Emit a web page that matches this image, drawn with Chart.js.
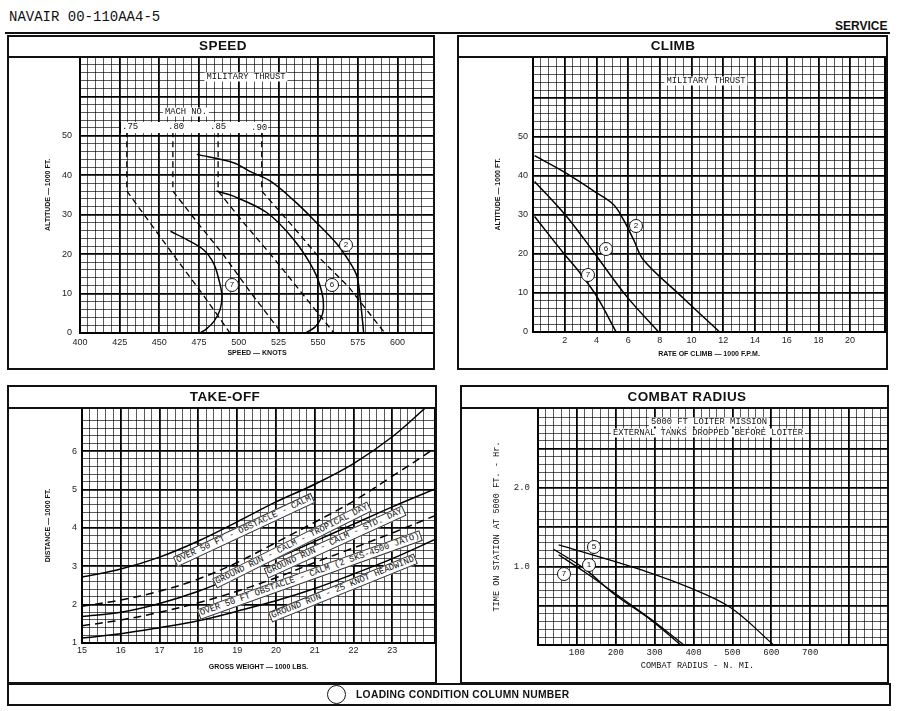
<!DOCTYPE html>
<html><head><meta charset="utf-8">
<script src="https://cdn.jsdelivr.net/npm/chart.js@4.4.1/dist/chart.umd.min.js"></script>
<style>
body{margin:0;width:900px;height:711px;background:#fff;position:relative;overflow:hidden;font-family:"Liberation Sans",Arial,sans-serif;color:#111;}
.abs{position:absolute;}
.box{position:absolute;border:2px solid #111;box-sizing:border-box;}
.hl{position:absolute;height:2px;background:#111;}
.title{position:absolute;font-weight:bold;font-size:13.5px;line-height:14px;transform:translate(-50%,-50%);white-space:nowrap;letter-spacing:0.4px;}
.tag{position:absolute;background:#fff;font-family:"Liberation Mono","DejaVu Sans Mono",monospace;font-size:8.8px;line-height:9px;padding:0 2px;white-space:nowrap;transform:translate(-50%,-50%);}
.rtag{position:absolute;background:#fff;font-family:"Liberation Mono","DejaVu Sans Mono",monospace;font-size:8.8px;line-height:9px;padding:0 1px;white-space:nowrap;border:1px solid #333;}
.circ{position:absolute;width:12px;height:12px;border:1.3px solid #111;border-radius:50%;background:#fff;font-size:8px;line-height:12px;text-align:center;transform:translate(-50%,-50%);}
canvas{position:absolute;}
</style></head><body>

<div class="abs" style="left:9px;top:9px;font-family:'Liberation Mono',monospace;font-size:14px;line-height:16px;">NAVAIR 00-110AA4-5</div>
<div class="abs" style="left:835px;top:20px;font-weight:bold;font-size:12px;line-height:12px;">SERVICE</div>
<div class="hl" style="left:5px;top:32px;width:885px;"></div>

<canvas id="cSpeed" width="427" height="311" style="left:7px;top:57px"></canvas>
<canvas id="cClimb" width="430" height="311" style="left:457px;top:57px"></canvas>
<canvas id="cTake" width="430" height="275" style="left:7px;top:408px"></canvas>
<canvas id="cCombat" width="428" height="274" style="left:460px;top:408px"></canvas>

<div class="box" style="left:7px;top:35px;width:428px;height:335px;"></div>
<div class="hl" style="left:7px;top:56px;width:428px;"></div>
<div class="title" style="left:223px;top:46px;">SPEED</div>

<div class="box" style="left:457px;top:35px;width:431px;height:335px;"></div>
<div class="hl" style="left:457px;top:56px;width:431px;"></div>
<div class="title" style="left:673px;top:46px;">CLIMB</div>

<div class="box" style="left:7px;top:385px;width:430px;height:299px;"></div>
<div class="hl" style="left:7px;top:407px;width:430px;"></div>
<div class="title" style="left:225px;top:397px;">TAKE-OFF</div>

<div class="box" style="left:460px;top:385px;width:429px;height:299px;"></div>
<div class="hl" style="left:460px;top:407px;width:429px;"></div>
<div class="title" style="left:687px;top:397px;">COMBAT RADIUS</div>

<div class="box" style="left:7px;top:683px;width:884px;height:23px;"></div>
<div class="abs" style="left:327px;top:685px;width:17px;height:17px;border:1.5px solid #111;border-radius:50%;"></div>
<div class="abs" style="left:356px;top:689px;font-weight:bold;font-size:10.3px;line-height:11px;letter-spacing:0.3px;">LOADING CONDITION COLUMN NUMBER</div>

<!-- SPEED annotations -->
<div class="tag" style="left:246px;top:77px;">MILITARY THRUST</div>
<div class="tag" style="left:186px;top:112px;">MACH NO.</div>
<div class="abs" style="left:120px;top:122px;width:147px;height:11px;background:#fff;border-left:1px solid #000;"></div>
<div class="abs" style="left:122px;top:123px;font-family:'Liberation Mono',monospace;font-size:9px;line-height:9px;">.75</div>
<div class="abs" style="left:168px;top:123px;font-family:'Liberation Mono',monospace;font-size:9px;line-height:9px;">.80</div>
<div class="abs" style="left:210px;top:123px;font-family:'Liberation Mono',monospace;font-size:9px;line-height:9px;">.85</div>
<div class="abs" style="left:251px;top:124px;font-family:'Liberation Mono',monospace;font-size:9px;line-height:9px;">.90</div>
<div class="circ" style="left:346px;top:245px;">2</div>
<div class="circ" style="left:332px;top:285px;">6</div>
<div class="circ" style="left:232px;top:285px;">7</div>

<!-- CLIMB annotations -->
<div class="tag" style="left:706px;top:81px;">MILITARY THRUST</div>
<div class="circ" style="left:636px;top:226px;">2</div>
<div class="circ" style="left:606px;top:249px;">6</div>
<div class="circ" style="left:588px;top:275px;">7</div>

<!-- TAKE-OFF annotations -->
<div class="rtag" style="left:244px;top:530px;transform:translate(-50%,-50%) rotate(-25deg);">OVER 50 FT - OBSTACLE - CALM</div>
<div class="rtag" style="left:292px;top:545px;transform:translate(-50%,-50%) rotate(-26.5deg);">GROUND RUN - CALM - TROPICAL DAY</div>
<div class="rtag" style="left:335px;top:542px;transform:translate(-50%,-50%) rotate(-24.5deg);">GROUND RUN - CALM - STD. DAY</div>
<div class="rtag" style="left:310px;top:575px;transform:translate(-50%,-50%) rotate(-19.6deg);">OVER 50 FT OBSTACLE - CALM (2 SKS-4500 JATO)</div>
<div class="rtag" style="left:343px;top:588px;transform:translate(-50%,-50%) rotate(-22deg);">GROUND RUN - 25 KNOT HEADWIND</div>

<!-- COMBAT annotations -->
<div class="tag" style="left:709px;top:422px;">5000 FT LOITER MISSION</div>
<div class="tag" style="left:708px;top:433px;">EXTERNAL TANKS DROPPED BEFORE LOITER</div>
<div class="circ" style="left:594px;top:547px;">5</div>
<div class="circ" style="left:589px;top:565px;">1</div>
<div class="circ" style="left:564px;top:574px;">7</div>

<script>
// ---------- SPEED panel data: [speed (knots), altitude (1000 ft)] ----------
const speedCurve2 = [[473.6,45.3],[496.7,43.2],[507,41],[520,38.5],[535,33.5],[549,28],[562,22.5],[570.3,17.7],[574.5,14.3],[576.6,8.4],[578.7,0]];
const speedCurve6 = [[486,36],[496.7,34.7],[517.8,30.5],[534.6,23.7],[547.2,16],[552.5,10.1],[553.3,6],[551.5,3.5],[548,1.5],[542,0]];
const speedCurve7 = [[457,25.8],[467.3,23.7],[477.8,21.1],[484.1,17.7],[487.5,13.5],[489.4,9.5],[488.3,6],[484.5,3],[479.5,1],[475.7,0]];
const mach75 = [[429.5,51.2],[429.5,36],[444,28],[458.5,20],[477,10],[494.5,0]];
const mach80 = [[458.5,51.2],[458.5,36],[474,28],[490,20],[508,10],[527,0]];
const mach85 = [[487,51.2],[487,36],[503,28],[522,19],[540,10],[560,0]];
const mach90 = [[514.5,51.2],[514.5,36],[532,28],[551,19],[569,11.8],[592,0]];
const speedXLabels = [400,425,450,475,500,525,550,575,600];
const speedYLabels = [0,10,20,30,40,50];

// ---------- CLIMB panel data: [rate of climb (1000 fpm), altitude (1000 ft)] ----------
const climb2 = [[0.1,45.2],[1.93,41.1],[4.04,35.6],[5.09,32.6],[5.72,28.7],[6.35,23.6],[6.98,18.4],[9.5,8.6],[11.77,0]];
const climb6 = [[0.1,38.6],[2.04,30],[3.19,24],[4.04,19.3],[5.93,9],[7.92,0]];
const climb7 = [[0.1,29.6],[1.93,20.2],[2.99,15],[4.04,9],[5.24,0]];
const climbXLabels = [2,4,6,8,10,12,14,16,18,20];
const climbYLabels = [0,10,20,30,40,50];

// ---------- TAKE-OFF panel data: [gross weight (1000 lb), distance (1000 ft)] ----------
const tkOver50Calm   = [[15,2.72],[16,2.93],[17,3.24],[18,3.66],[19,4.16],[20,4.68],[21,5.14],[22,5.68],[23,6.38],[23.85,7.13]];
const tkGroundTrop   = [[15,1.96],[16,2.12],[17,2.35],[18,2.67],[19,3.1],[20,3.62],[21,4.15],[22,4.7],[23,5.35],[24.1,6.08]];
const tkGroundStd    = [[15,1.69],[16,1.8],[17,2.03],[18,2.35],[19,2.75],[20,3.2],[21,3.65],[22,4.1],[23,4.55],[24.1,5.02]];
const tkOver50Jato   = [[15,1.45],[16,1.6],[17,1.8],[18,2.05],[19,2.35],[20,2.7],[21,3.1],[22,3.48],[23,3.87],[24.1,4.32]];
const tkGroundWind   = [[15,1.13],[16,1.24],[17,1.4],[18,1.58],[19,1.83],[20,2.1],[21,2.42],[22,2.8],[23,3.2],[24.1,3.7]];
const tkXLabels = [15,16,17,18,19,20,21,22,23,24];
const tkYLabels = [1,2,3,4,5,6];

// ---------- COMBAT RADIUS panel data: [radius (n. mi.), time on station (hr)] ----------
const combat5 = [[53,1.275],[160,1.12],[270,0.95],[380,0.75],[494,0.48],[606,0]];
const combat1 = [[40,1.22],[120,0.97],[198,0.64],[290,0.32],[367,0]];
const combat7 = [[53,1.15],[120,0.93],[200,0.65],[290,0.33],[375,0]];
const crXLabels = [100,200,300,400,500,600,700];
const crYLabels = [1.0,2.0];

// ---------- helpers ----------
function mkXY(arr){ return arr.map(p => ({x:p[0], y:p[1]})); }
function near(v, list){ return list.some(l => Math.abs(l - v) < 1e-6); }
function isMul(v, m){ const r = v / m; return Math.abs(r - Math.round(r)) < 1e-6; }
function gridOpts(major){
  return {
    drawTicks:false,
    color: c => (c.tick && isMul(c.tick.value, major)) ? '#000' : 'rgba(0,0,0,0.72)',
    lineWidth: c => (c.tick && isMul(c.tick.value, major)) ? 1.8 : 0.9
  };
}
const framePlugin = {id:'frame', afterDraw(chart){
  const {ctx, chartArea:a} = chart;
  ctx.save(); ctx.strokeStyle = '#000'; ctx.lineWidth = 2;
  ctx.strokeRect(a.left, a.top, a.right - a.left, a.bottom - a.top);
  ctx.restore();
}};
const sansTick = {family:'Liberation Sans', size:9};
const monoTick = {family:'Liberation Mono', size:9};
const sansTitle = {family:'Liberation Sans', size:7, weight:'bold'};
const monoTitle = {family:'Liberation Mono', size:8.6};

function makeChart(id, cfg){
  const ds = cfg.series.map(s => ({
    data: mkXY(s.data), borderColor:'#000', borderWidth: s.w || 1.5,
    borderDash: s.dash || [], tension: s.t === undefined ? 0.35 : s.t,
    pointRadius:0, fill:false
  }));
  return new Chart(document.getElementById(id), {
    type:'line',
    data:{datasets:ds},
    options:{
      responsive:false, animation:false, events:[],
      layout:{padding:{left:0, top:0, bottom:0, right:cfg.padR}, autoPadding:false},
      plugins:{legend:{display:false}, tooltip:{enabled:false}},
      scales:{
        x:{type:'linear', min:cfg.x.min, max:cfg.x.max,
          afterFit: s => { s.height = cfg.x.h; s.paddingLeft = 0; s.paddingRight = 0; },
          grid: gridOpts(cfg.x.major), border:{display:false},
          ticks:{stepSize:cfg.x.step, autoSkip:false, maxRotation:0, padding:cfg.x.pad,
            font:cfg.x.font, color:'#222',
            callback: v => near(v, cfg.x.labels) ? cfg.x.fmt(v) : ''},
          title:{display:true, text:cfg.x.title, font:cfg.x.tfont, color:'#111',
            padding:{top:0, bottom:cfg.x.tpad}}
        },
        y:{type:'linear', min:cfg.y.min, max:cfg.y.max,
          afterFit: s => { s.width = cfg.y.w; s.paddingTop = 0; s.paddingBottom = 0; },
          grid: gridOpts(cfg.y.major), border:{display:false},
          ticks:{stepSize:cfg.y.step, autoSkip:false, padding:cfg.y.pad,
            font:cfg.y.font, color:'#222',
            callback: v => near(v, cfg.y.labels) ? cfg.y.fmt(v) : ''},
          title:{display:true, text:cfg.y.title, font:cfg.y.tfont, color:'#111',
            padding:{top:cfg.y.tpad, bottom:0}}
        }
      }
    },
    plugins:[framePlugin]
  });
}
const fmtInt = v => String(Math.round(v));
const fmt1 = v => v.toFixed(1);

makeChart('cSpeed', {
  padR:0,
  series:[
    {data:speedCurve2},{data:speedCurve6},{data:speedCurve7},
    {data:mach75, dash:[6,4], t:0, w:1.3},{data:mach80, dash:[6,4], t:0, w:1.3},
    {data:mach85, dash:[6,4], t:0, w:1.3},{data:mach90, dash:[6,4], t:0, w:1.3}
  ],
  x:{min:400, max:623, step:5, major:25, labels:speedXLabels, fmt:fmtInt, h:35, pad:4, font:sansTick,
     title:'SPEED — KNOTS', tfont:sansTitle, tpad:10.5},
  y:{min:0, max:70, step:2, major:10, labels:speedYLabels, fmt:fmtInt, w:73, pad:8, font:sansTick,
     title:'ALTITUDE — 1000 FT.', tfont:sansTitle, tpad:36.8}
});

makeChart('cClimb', {
  padR:2,
  series:[{data:climb2},{data:climb6},{data:climb7}],
  x:{min:0, max:22.2, step:0.5, major:2, labels:climbXLabels, fmt:fmtInt, h:36, pad:3, font:sansTick,
     title:'RATE OF CLIMB — 1000 F.P.M.', tfont:sansTitle, tpad:9.8},
  y:{min:0, max:70.5, step:2, major:10, labels:climbYLabels, fmt:fmtInt, w:76, pad:5, font:sansTick,
     title:'ALTITUDE — 1000 FT.', tfont:sansTitle, tpad:36.8}
});

makeChart('cTake', {
  padR:2,
  series:[
    {data:tkOver50Calm},{data:tkGroundTrop, dash:[8,5]},{data:tkGroundStd},
    {data:tkOver50Jato, dash:[8,5]},{data:tkGroundWind}
  ],
  x:{min:15, max:24.1, step:0.2, major:1, labels:tkXLabels, fmt:fmtInt, h:40, pad:2, font:sansTick,
     title:'GROSS WEIGHT — 1000 LBS.', tfont:sansTitle, tpad:12.1},
  y:{min:1, max:7.13, step:0.2, major:1, labels:tkYLabels, fmt:fmtInt, w:75, pad:5, font:sansTick,
     title:'DISTANCE — 1000 FT.', tfont:sansTitle, tpad:37.1}
});

makeChart('cCombat', {
  padR:0,
  series:[{data:combat5, w:1.3},{data:combat1, w:1.3},{data:combat7, w:1.3}],
  x:{min:0, max:900, step:20, major:100, labels:crXLabels, fmt:fmtInt, h:37, pad:2, font:monoTick,
     title:'COMBAT RADIUS - N. MI.      ', tfont:monoTitle, tpad:11.6},
  y:{min:0, max:3.02, step:0.1, major:0.5, labels:crYLabels, fmt:fmt1, w:78, pad:8, font:monoTick,
     title:'TIME ON STATION AT 5000 FT. - Hr.', tfont:monoTitle, tpad:31.5}
});
</script>
</body></html>
